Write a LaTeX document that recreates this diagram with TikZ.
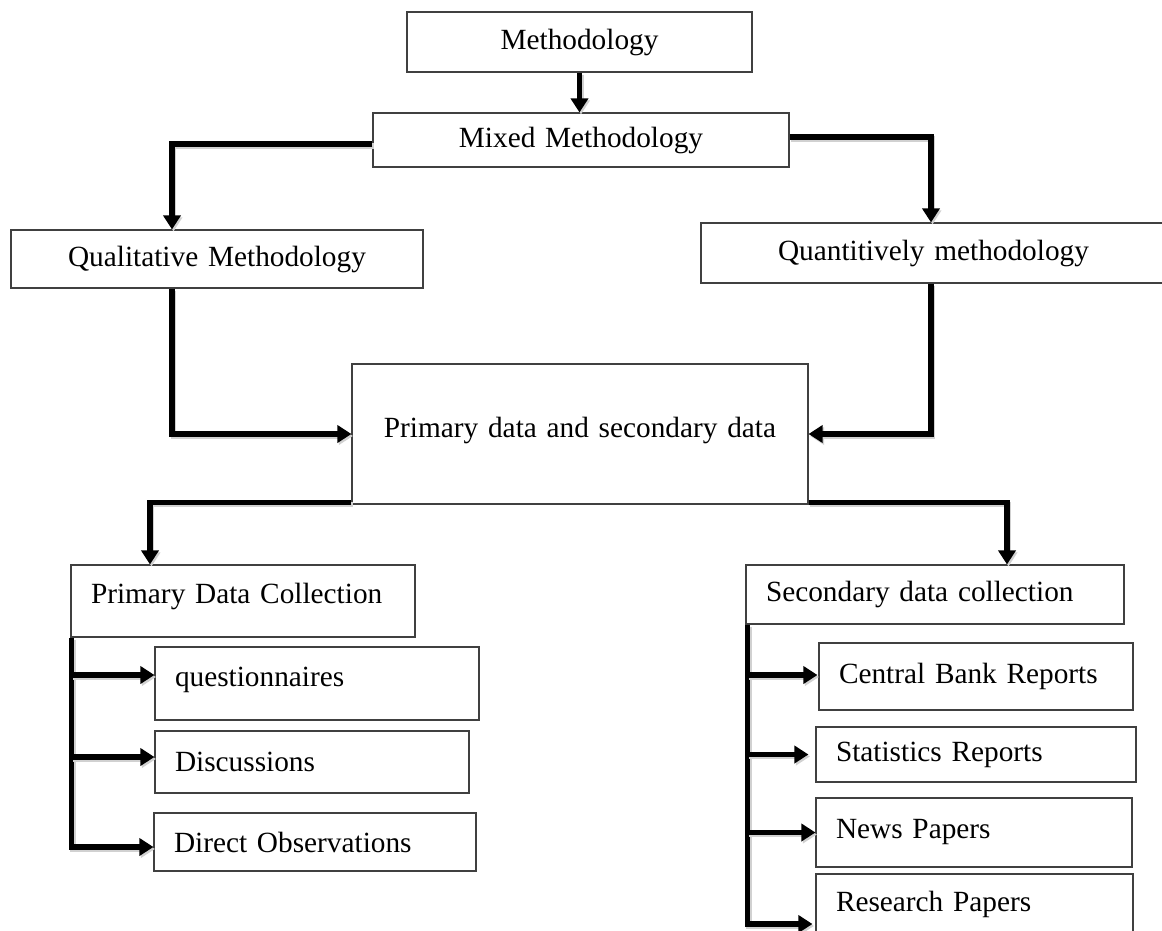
\documentclass[tikz,border=0pt]{standalone}
\usepackage{fontspec}
\setmainfont{Liberation Serif}
\usetikzlibrary{arrows.meta,positioning,calc}
\begin{document}
\begin{tikzpicture}[x=1pt,y=-1pt,
  box/.style={draw=black!75, line width=1.1pt, rectangle, inner xsep=20pt, inner ysep=0pt,
    font=\fontsize{29.3}{34}\selectfont},
  cbox/.style={box, align=center},
  lbox/.style={box, align=left},
  conn/.style={line width=5.5pt, black, -{Triangle[length=14pt,width=17pt]},
    preaction={draw=black!18, line width=5.5pt, transform canvas={shift={(1.5pt,-2pt)}}}}
]
\useasboundingbox (0,0) rectangle (1162,931);

% boxes
\node[cbox, minimum width=345pt, minimum height=60pt, text width=305pt] (meth) at (579.5,42) {Methodology};
\node[cbox, minimum width=416pt, minimum height=54pt, text width=376pt] (mixed) at (581,140) {Mixed Methodology};
\node[cbox, minimum width=412pt, minimum height=58pt, text width=372pt] (qual) at (217,259) {Qualitative Methodology};
\node[cbox, minimum width=465pt, minimum height=60pt, text width=425pt] (quant) at (933.5,253) {Quantitively methodology};
\node[cbox, minimum width=456pt, minimum height=140pt, text width=416pt] (central) at (580,434) {Primary data and secondary data\\[-20pt]\mbox{}};

\node[lbox, minimum width=344pt, minimum height=72pt, text width=304pt] (pdc) at (243,601) {Primary Data Collection\\[-18pt]\mbox{}};
\node[lbox, minimum width=378pt, minimum height=59pt, text width=338pt] (sdc) at (935,594.5) {Secondary data collection};

\node[lbox, minimum width=324pt, minimum height=73pt, text width=284pt] (q1) at (317,683.5) {questionnaires\\[-21pt]\mbox{}};
\node[lbox, minimum width=314pt, minimum height=62pt, text width=274pt] (q2) at (312,762) {Discussions};
\node[lbox, minimum width=322pt, minimum height=58pt, text width=282pt] (q3) at (315,842) {Direct Observations};

\node[lbox, minimum width=314pt, minimum height=67pt, text width=274pt] (s1) at (976,676.5) {Central Bank Reports};
\node[lbox, minimum width=320pt, minimum height=55pt, text width=280pt] (s2) at (976,754.5) {Statistics Reports};
\node[lbox, minimum width=316pt, minimum height=69pt, text width=276pt] (s3) at (974,832.5) {News Papers};
\node[lbox, minimum width=317pt, minimum height=60pt, text width=277pt] (s4) at (974.5,904) {Research Papers};

% connectors
\draw[conn] (meth.south) -- (meth.south |- mixed.north);
\draw[conn] ([yshift=-4pt]mixed.west) -| ([xshift=-45pt]qual.north);
\draw[conn] ([yshift=3pt]mixed.east) -| ([xshift=-2.5pt]quant.north);
\draw[conn] ([xshift=-45pt]qual.south) |- (central.west);
\draw[conn] ([xshift=-2.5pt]quant.south) |- (central.east);
\draw[conn] ([yshift=2pt]central.south west) -| ([xshift=-93pt]pdc.north);
\draw[conn] ([yshift=2pt]central.south east) -| ([xshift=72pt]sdc.north);

% primary branch
\coordinate (ptrunk) at ([xshift=1pt]pdc.south west);
\coordinate (q1in) at ([yshift=8.5pt]q1.west);
\coordinate (q2in) at ([yshift=5pt]q2.west);
\coordinate (q3in) at ([yshift=-5pt]q3.west);
\draw[conn] (ptrunk) |- (q3in);
\draw[conn] (q1in -| ptrunk) -- (q1in);
\draw[conn] (q2in -| ptrunk) -- (q2in);

% secondary branch
\coordinate (strunk) at ([xshift=2pt]sdc.south west);
\coordinate (s1in) at ([yshift=1.5pt,xshift=-1pt]s1.west);
\coordinate (s2in) at ([xshift=-7pt]s2.west);
\coordinate (s3in) at (s3.west);
\coordinate (s4in) at ([yshift=-20pt,xshift=-3pt]s4.west);
\draw[conn] (strunk) |- (s4in);
\draw[conn] (s1in -| strunk) -- (s1in);
\draw[conn] (s2in -| strunk) -- (s2in);
\draw[conn] (s3in -| strunk) -- (s3in);
\end{tikzpicture}
\end{document}
